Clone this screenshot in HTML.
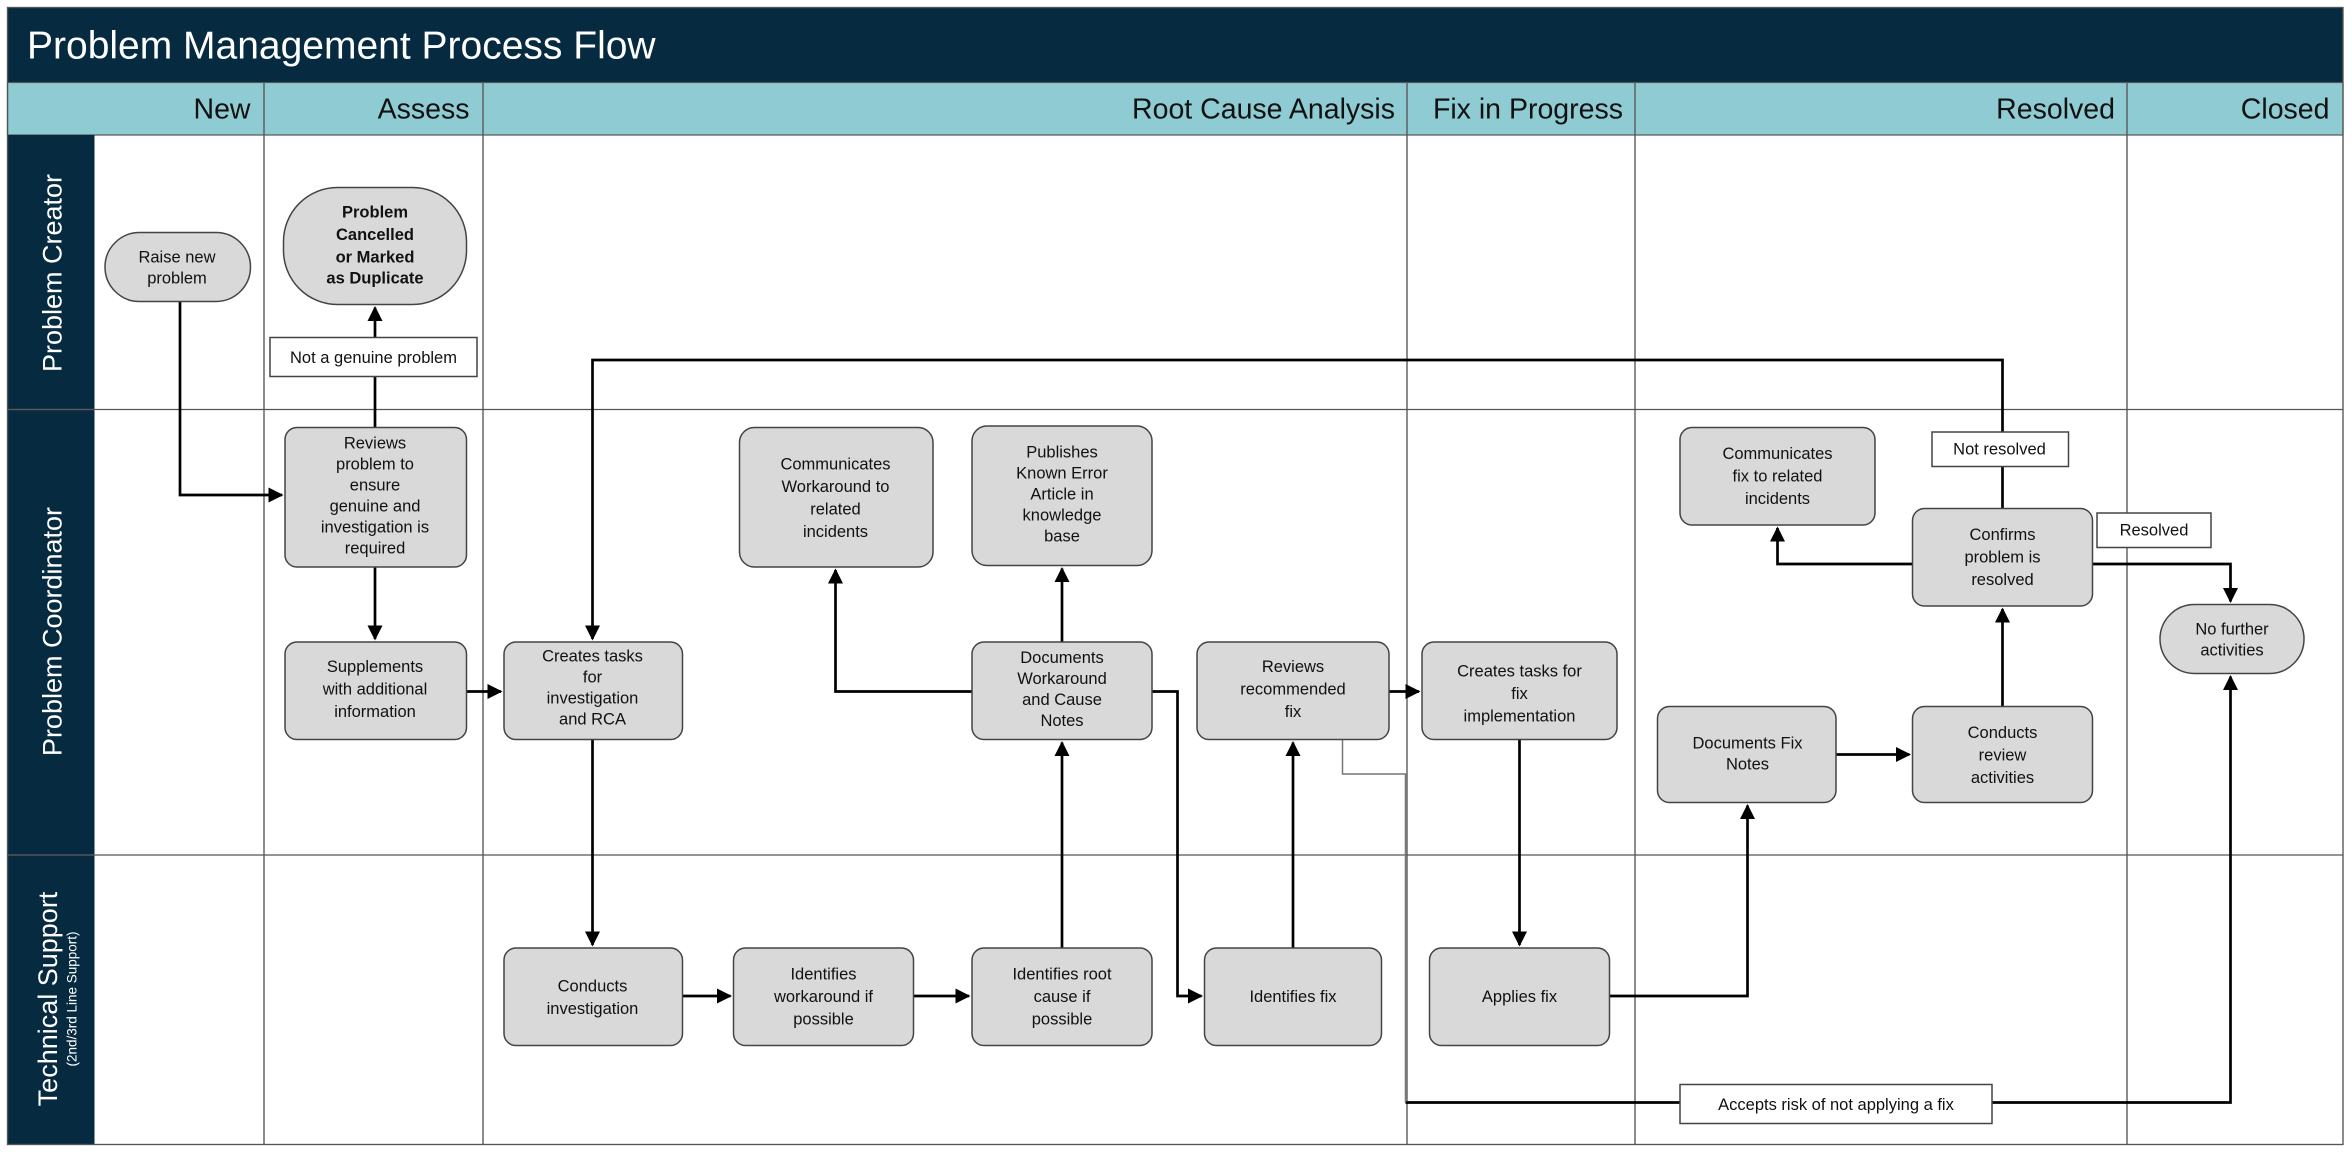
<!DOCTYPE html>
<html><head><meta charset="utf-8"><style>
html,body{margin:0;padding:0;background:#fff;}
svg{display:block;}
text{font-family:"Liberation Sans",sans-serif;}
</style></head><body>
<svg width="2352" height="1154" viewBox="0 0 1568 769.33" xmlns="http://www.w3.org/2000/svg">
<defs>
<marker id="a" markerWidth="10" markerHeight="10" refX="9" refY="5" orient="auto" markerUnits="userSpaceOnUse">
<path d="M0,0 L10,5 L0,10 z" fill="#000"/></marker>
</defs>
<rect x="0" y="0" width="1568" height="770" fill="#fff"/>
<!-- title -->
<rect x="5" y="5" width="1557" height="50" fill="#062b40"/>
<text x="18" y="39" font-size="26" fill="#fff">Problem Management Process Flow</text>
<!-- header -->
<rect x="5" y="55" width="1557" height="35" fill="#8fcbd3" stroke="#555" stroke-width="0.8"/>
<g font-size="19" fill="#111" text-anchor="end">
<text x="167" y="79">New</text><text x="313" y="79">Assess</text>
<text x="930" y="79">Root Cause Analysis</text><text x="1082" y="79">Fix in Progress</text>
<text x="1410" y="79">Resolved</text><text x="1553" y="79">Closed</text>
</g>
<!-- lane labels -->
<rect x="5" y="90" width="58" height="673" fill="#062b40"/>
<line x1="5" y1="273" x2="63" y2="273" stroke="#555" stroke-width="1"/>
<line x1="5" y1="570" x2="63" y2="570" stroke="#555" stroke-width="1"/>
<g fill="#fff" text-anchor="middle">
<text transform="translate(41,182) rotate(-90)" font-size="18">Problem Creator</text>
<text transform="translate(41,421) rotate(-90)" font-size="18">Problem Coordinator</text>
<text transform="translate(38,666) rotate(-90)" font-size="18">Technical Support</text>
<text transform="translate(51,666) rotate(-90)" font-size="9">(2nd/3rd Line Support)</text>
</g>
<!-- grid -->
<g stroke="#555" stroke-width="0.9" fill="none">
<rect x="5" y="5" width="1557" height="758"/>
<line x1="63" y1="273" x2="1562" y2="273"/><line x1="63" y1="570" x2="1562" y2="570"/>
<line x1="176" y1="55" x2="176" y2="763"/><line x1="322" y1="55" x2="322" y2="763"/>
<line x1="938" y1="55" x2="938" y2="763"/><line x1="1090" y1="55" x2="1090" y2="763"/>
<line x1="1418" y1="55" x2="1418" y2="763"/>
</g>
<!-- connectors -->
<g stroke="#000" stroke-width="1.8" fill="none">
<path d="M120,201 V330 H188" marker-end="url(#a)"/>
<path d="M250,285 V205" marker-end="url(#a)"/>
<path d="M250,378 V426" marker-end="url(#a)"/>
<path d="M311,461 H334" marker-end="url(#a)"/>
<path d="M395,493 V630" marker-end="url(#a)"/>
<path d="M1335,339 V240 H395 V426" marker-end="url(#a)"/>
<path d="M455,664 H487" marker-end="url(#a)"/>
<path d="M609,664 H646" marker-end="url(#a)"/>
<path d="M708,632 V495" marker-end="url(#a)"/>
<path d="M708,428 V379" marker-end="url(#a)"/>
<path d="M648,461 H557 V380" marker-end="url(#a)"/>
<path d="M768,461 H785 V664 H801" marker-end="url(#a)"/>
<path d="M862,632 V495" marker-end="url(#a)"/>
<path d="M926,461 H946" marker-end="url(#a)"/>
<path d="M1013,493 V630" marker-end="url(#a)"/>
<path d="M1073,664 H1165 V537" marker-end="url(#a)"/>
<path d="M1224,503 H1273" marker-end="url(#a)"/>
<path d="M1335,471 V406" marker-end="url(#a)"/>
<path d="M1275,376 H1185 V352" marker-end="url(#a)"/>
<path d="M1395,376 H1487 V401" marker-end="url(#a)"/>
<path d="M937,735 H1487 V451" marker-end="url(#a)"/>
</g>
<path d="M895,493 V516 H937 V735" stroke="#777" stroke-width="1" fill="none"/>
<!-- nodes -->
<g fill="#d9d9d9" stroke="#444" stroke-width="1">
<rect x="70" y="155" width="97" height="46" rx="23"/>
<rect x="189" y="125" width="122" height="78" rx="36"/>
<rect x="190" y="285" width="121" height="93" rx="8"/>
<rect x="190" y="428" width="121" height="65" rx="8"/>
<rect x="336" y="428" width="119" height="65" rx="8"/>
<rect x="336" y="632" width="119" height="65" rx="8"/>
<rect x="489" y="632" width="120" height="65" rx="8"/>
<rect x="648" y="632" width="120" height="65" rx="8"/>
<rect x="493" y="285" width="129" height="93" rx="10"/>
<rect x="648" y="284" width="120" height="93" rx="10"/>
<rect x="648" y="428" width="120" height="65" rx="8"/>
<rect x="798" y="428" width="128" height="65" rx="8"/>
<rect x="803" y="632" width="118" height="65" rx="8"/>
<rect x="948" y="428" width="130" height="65" rx="8"/>
<rect x="953" y="632" width="120" height="65" rx="8"/>
<rect x="1120" y="285" width="130" height="65" rx="8"/>
<rect x="1275" y="339" width="120" height="65" rx="8"/>
<rect x="1105" y="471" width="119" height="64" rx="8"/>
<rect x="1275" y="471" width="120" height="64" rx="8"/>
<rect x="1440" y="403" width="96" height="46" rx="23"/>
</g>
<g fill="#fff" stroke="#444" stroke-width="1">
<rect x="180" y="225" width="138" height="26"/>
<rect x="1288" y="288" width="91" height="23"/>
<rect x="1398" y="342" width="76" height="23"/>
<rect x="1120" y="723" width="208" height="26"/>
</g>
<g font-size="11" fill="#111" text-anchor="middle">
<text x="118" y="175">Raise new</text><text x="118" y="189">problem</text>
<text font-weight="bold"><tspan x="250" y="145">Problem</tspan><tspan x="250" y="160">Cancelled</tspan><tspan x="250" y="175">or Marked</tspan><tspan x="250" y="189">as Duplicate</tspan></text>
<text x="249" y="242">Not a genuine problem</text>
<text><tspan x="250" y="299">Reviews</tspan><tspan x="250" y="313">problem to</tspan><tspan x="250" y="327">ensure</tspan><tspan x="250" y="341">genuine and</tspan><tspan x="250" y="355">investigation is</tspan><tspan x="250" y="369">required</tspan></text>
<text><tspan x="250" y="448">Supplements</tspan><tspan x="250" y="463">with additional</tspan><tspan x="250" y="478">information</tspan></text>
<text><tspan x="395" y="441">Creates tasks</tspan><tspan x="395" y="455">for</tspan><tspan x="395" y="469">investigation</tspan><tspan x="395" y="483">and RCA</tspan></text>
<text><tspan x="395" y="661">Conducts</tspan><tspan x="395" y="676">investigation</tspan></text>
<text><tspan x="549" y="653">Identifies</tspan><tspan x="549" y="668">workaround if</tspan><tspan x="549" y="683">possible</tspan></text>
<text><tspan x="708" y="653">Identifies root</tspan><tspan x="708" y="668">cause if</tspan><tspan x="708" y="683">possible</tspan></text>
<text><tspan x="557" y="313">Communicates</tspan><tspan x="557" y="328">Workaround to</tspan><tspan x="557" y="343">related</tspan><tspan x="557" y="358">incidents</tspan></text>
<text><tspan x="708" y="305">Publishes</tspan><tspan x="708" y="319">Known Error</tspan><tspan x="708" y="333">Article in</tspan><tspan x="708" y="347">knowledge</tspan><tspan x="708" y="361">base</tspan></text>
<text><tspan x="708" y="442">Documents</tspan><tspan x="708" y="456">Workaround</tspan><tspan x="708" y="470">and Cause</tspan><tspan x="708" y="484">Notes</tspan></text>
<text><tspan x="862" y="448">Reviews</tspan><tspan x="862" y="463">recommended</tspan><tspan x="862" y="478">fix</tspan></text>
<text x="862" y="668">Identifies fix</text>
<text><tspan x="1013" y="451">Creates tasks for</tspan><tspan x="1013" y="466">fix</tspan><tspan x="1013" y="481">implementation</tspan></text>
<text x="1013" y="668">Applies fix</text>
<text><tspan x="1185" y="306">Communicates</tspan><tspan x="1185" y="321">fix to related</tspan><tspan x="1185" y="336">incidents</tspan></text>
<text x="1333" y="303">Not resolved</text>
<text x="1436" y="357">Resolved</text>
<text><tspan x="1335" y="360">Confirms</tspan><tspan x="1335" y="375">problem is</tspan><tspan x="1335" y="390">resolved</tspan></text>
<text><tspan x="1165" y="499">Documents Fix</tspan><tspan x="1165" y="513">Notes</tspan></text>
<text><tspan x="1335" y="492">Conducts</tspan><tspan x="1335" y="507">review</tspan><tspan x="1335" y="522">activities</tspan></text>
<text><tspan x="1488" y="423">No further</tspan><tspan x="1488" y="437">activities</tspan></text>
<text x="1224" y="740">Accepts risk of not applying a fix</text>
</g>
</svg>
</body></html>
